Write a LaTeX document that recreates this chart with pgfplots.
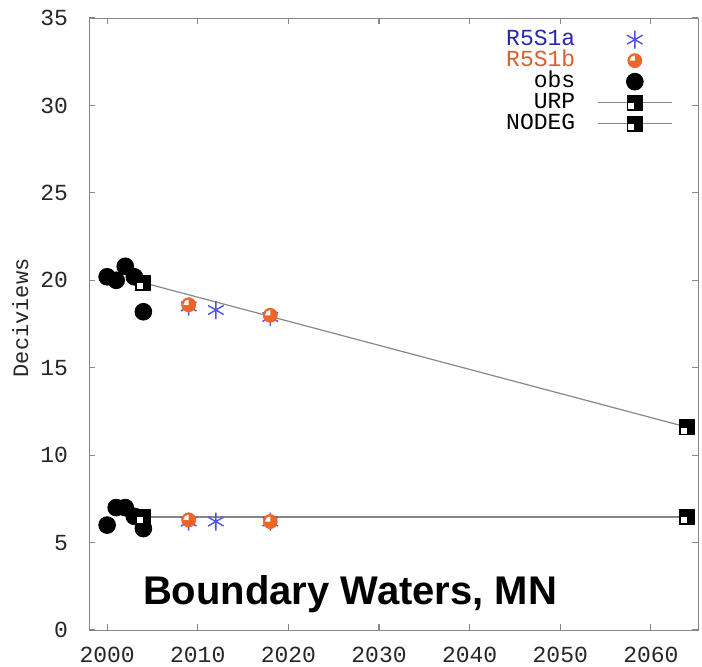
\documentclass[border=0pt]{standalone}
\usepackage{pgfplots}
\pgfplotsset{compat=1.18}
\usepackage{fontspec}
\setmainfont{Liberation Sans}
\newfontfamily\monofont{Liberation Mono}
\definecolor{r5a}{RGB}{80,80,225}
\definecolor{r5atext}{RGB}{40,40,170}
\definecolor{r5b}{RGB}{240,100,40}
\definecolor{r5btext}{RGB}{215,95,45}
\definecolor{axgray}{RGB}{135,135,135}
\pgfdeclareplotmark{urp}{%
  \pgfpathrectangle{\pgfpoint{-\pgfplotmarksize}{-\pgfplotmarksize}}{\pgfpoint{2\pgfplotmarksize}{2\pgfplotmarksize}}%
  \pgfsetfillcolor{black}\pgfusepathqfill
  \pgfpathrectangle{\pgfpoint{-0.8\pgfplotmarksize}{-0.8\pgfplotmarksize}}{\pgfpoint{0.75\pgfplotmarksize}{0.75\pgfplotmarksize}}%
  \pgfsetfillcolor{white}\pgfusepathqfill
}
\pgfdeclareplotmark{pie}{%
  \pgfpathcircle{\pgfpointorigin}{\pgfplotmarksize}%
  \pgfsetfillcolor{r5b}\pgfsetstrokecolor{r5b}\pgfusepathqfillstroke
  \pgfpathmoveto{\pgfpointorigin}%
  \pgfpathlineto{\pgfpoint{-0.75\pgfplotmarksize}{0pt}}%
  \pgfpatharc{180}{90}{0.75\pgfplotmarksize}%
  \pgfpathclose
  \pgfsetfillcolor{white}\pgfusepathqfill
}
\begin{document}
\begin{tikzpicture}
\begin{axis}[
  at={(44.5pt,18pt)}, anchor=south west,
  scale only axis, width=304.5pt, height=306pt,
  xmin=1998, xmax=2065.2, ymin=0, ymax=35,
  xtick={2000,2010,2020,2030,2040,2050,2060},
  ytick={0,5,10,15,20,25,30,35},
  tick align=inside, major tick length=3pt,
  axis line style={axgray}, tick style={axgray, line width=0.6pt},
  ticklabel style={font=\monofont\fontsize{11.5}{12}\selectfont, text=black!85},
  yticklabel style={xshift=-7pt},
  xticklabel style={yshift=-5pt},
  /pgf/number format/assume math mode=true,
  /pgf/number format/1000 sep={},
  ylabel={Deciviews},
  ylabel style={font=\monofont\fontsize{11}{12}\selectfont, text=black!85, at={(axis description cs:-0.113,0.51)}, anchor=center, rotate=0},
  legend plot pos=right,
  legend cell align=right,
  legend image code/.code={\draw[mark repeat=2,mark phase=2,#1] plot coordinates {(0cm,0cm)(0.65cm,0cm)(1.3cm,0cm)};},
  legend style={at={(rel axis cs:0.9685,0.989)}, anchor=north east, draw=none, fill=none,
    font=\monofont\fontsize{11.5}{12}\selectfont, row sep=0pt, column sep=10.5pt,
    nodes={inner sep=0.5pt, text height=7.5pt, text depth=2pt}},
]
\addplot[only marks, mark=asterisk, mark size=4.5pt, r5a, line width=0.7pt] coordinates {
  (2009,18.5) (2012,18.3) (2018,17.9) (2009,6.2) (2012,6.2) (2018,6.2)};
\addlegendentry[text=r5atext]{R5S1a}
\addplot[only marks, mark=pie, mark size=3.5pt, r5b] coordinates {
  (2009,18.6) (2018,18.0) (2009,6.3) (2018,6.2)};
\addlegendentry[text=r5btext]{R5S1b}
\addplot[only marks, mark=*, mark size=4.2pt, black] coordinates {
  (2000,20.2) (2001,20.0) (2002,20.8) (2003,20.2) (2004,18.2)
  (2000,6.0) (2001,7.0) (2002,7.0) (2003,6.5) (2004,5.8)};
\addlegendentry{obs}
\addplot[axgray, line width=0.6pt, mark=urp, mark size=4pt] coordinates {
  (2004,19.86) (2064,11.6)};
\addlegendentry{URP}
\addplot[axgray, line width=0.6pt, mark=urp, mark size=4pt] coordinates {
  (2004,6.46) (2064,6.46)};
\addlegendentry{NODEG}
\end{axis}
\node[anchor=base west, font=\bfseries\fontsize{20}{24}\selectfont] at (68pt,31pt) {Boundary Waters, MN};
\pgfresetboundingbox
\path (0,0) rectangle (351pt,333pt);
\end{tikzpicture}
\end{document}
